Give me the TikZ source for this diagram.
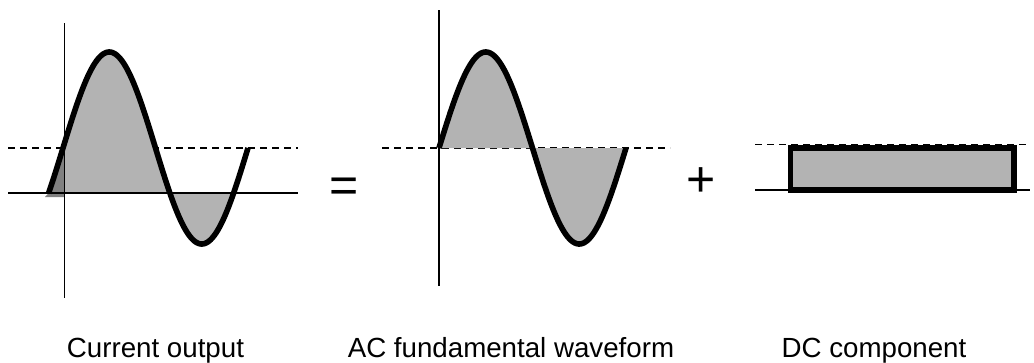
\documentclass[tikz,border=0pt]{standalone}
\usepackage{fontspec}
\setmainfont{Liberation Sans}
\definecolor{lightfill}{RGB}{179,179,179}
\definecolor{darkfill}{RGB}{128,128,128}
\begin{document}
\begin{tikzpicture}[x=1pt,y=-1pt,
  axisline/.style={line width=1.7pt},
  dashline/.style={line width=1.7pt, dash pattern=on 7pt off 5pt},
  wave/.style={line width=5.6pt, line join=round},
  lbl/.style={anchor=base, inner sep=0pt, font=\fontsize{27.7}{33}\selectfont},
  opsym/.style={anchor=base, inner sep=0pt, font=\fontsize{50}{60}\selectfont}]
\useasboundingbox (0,0) rectangle (1034,362);
% ---------- panel 1 : current output ----------
\draw[dashline] (8,148) -- (298,148);
\fill[lightfill] plot[domain=64.5:233.6, samples=120, smooth] (\x,{148-96*sin((\x-63)/185*360)}) -- (64.5,193) -- cycle;
\fill[darkfill] plot[domain=48.6:64.5, samples=20, smooth] (\x,{148-96*sin((\x-63)/185*360)}) -- (64.5,197) -- (45,197) -- cycle;
\draw[axisline] (64.5,23) -- (64.5,298);
\draw[axisline] (8,193) -- (298,193);
\draw[wave] plot[domain=48.6:248, samples=150, smooth] (\x,{148-96*sin((\x-63)/185*360)});
% ---------- panel 2 : AC fundamental ----------
\draw[dashline] (382,148) -- (670,148);
\fill[lightfill] plot[domain=439:626, samples=150, smooth] (\x,{148-96*sin((\x-439)/187*360)}) -- cycle;
\draw[axisline] (439,10) -- (439,286);
\draw[wave] plot[domain=439:626, samples=150, smooth] (\x,{148-96*sin((\x-439)/187*360)});
% ---------- panel 3 : DC component ----------
\draw[dashline] (755,144.5) -- (1028,144.5);
\draw[axisline] (755,190) -- (1030,190);
\draw[line width=5.6pt, fill=lightfill] (790.5,148) rectangle (1014,190);
% ---------- operators ----------
\node[opsym] (eq) at (344.5,202) {=};
\node[opsym] (plus) at (701.5,196.5) {+};
% ---------- labels ----------
\node[lbl] (lcur) at (155.5,357) {Current output};
\node[lbl] (lac) at (511,357) {AC fundamental waveform};
\node[lbl] (ldc) at (874,357) {DC component};
\end{tikzpicture}
\end{document}
